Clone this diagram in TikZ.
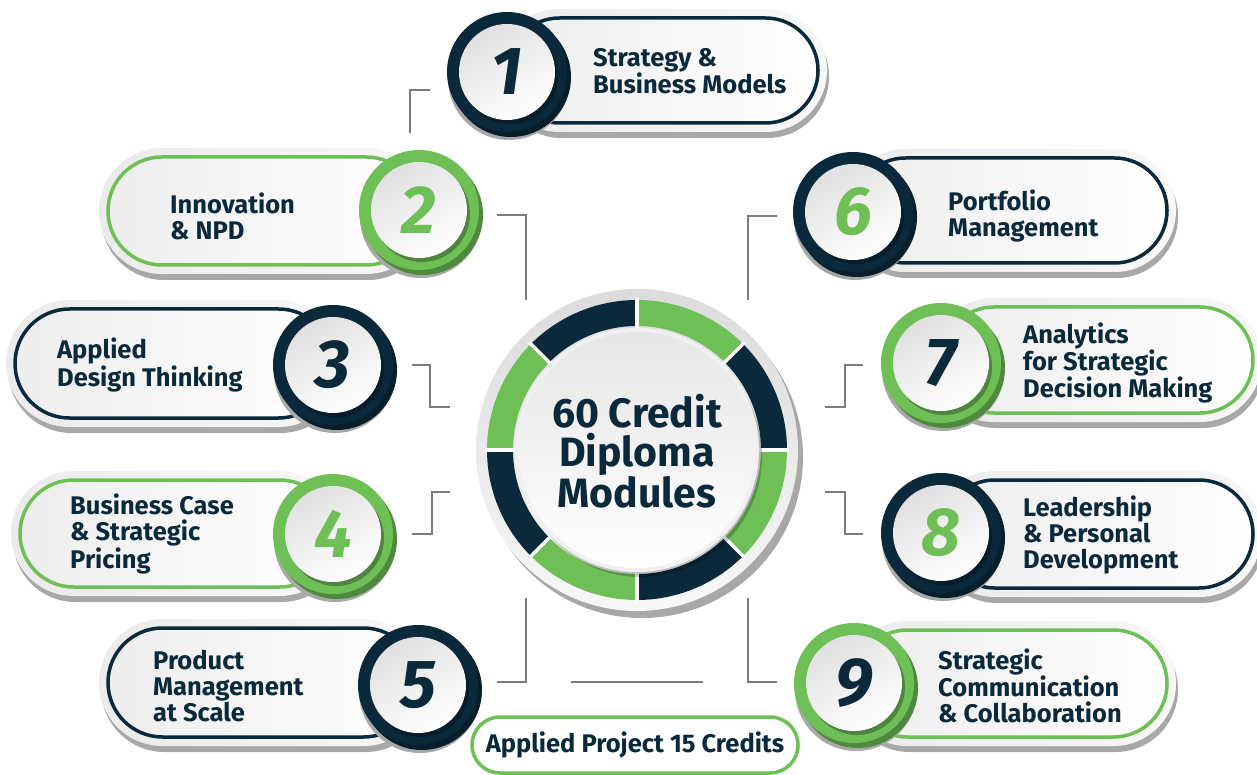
\documentclass[tikz,border=0pt]{standalone}
\usepackage{fontspec}
\setmainfont{Fira Sans}
\definecolor{navy}{HTML}{0A2A3C}
\definecolor{grn}{HTML}{6EBF56}
\definecolor{connc}{HTML}{7C7C7C}
\definecolor{shadowc}{HTML}{A8A8A8}
\definecolor{haloc}{HTML}{EBEBEB}
\tikzset{
  connector/.style={draw=connc, line width=2pt},
  modtext/.style={anchor=west, align=left, text=navy, inner sep=0pt,
    font=\fontsize{25.5}{26}\selectfont\bfseries},
  numtext/.style={inner sep=0pt, font=\fontsize{68}{68}\selectfont\bfseries\itshape},
  hubtext/.style={align=center, text=navy, inner sep=0pt,
    font=\fontsize{41}{39}\selectfont\bfseries},
  projbox/.style={draw=grn, line width=3.5pt, fill=white, rounded corners=28pt,
    minimum width=326pt, minimum height=56pt, text=navy, inner sep=0pt,
    font=\fontsize{25.5}{26}\selectfont\bfseries},
}
% pill: left, right, top, bottom, colour
\newcommand\modpill[5]{%
  \pgfmathsetmacro\pr{(#4-#3)/2}%
  \pgfmathsetmacro\hr{\pr+9}%
  \fill[shadowc, rounded corners=\hr pt] (#1-9+2,#3-9+6) rectangle (#2+9+2,#4+9+6);
  \shade[left color=haloc, right color=white!97!black, rounded corners=\hr pt] (#1-9,#3-9) rectangle (#2+9,#4+9);
  \shadedraw[draw=#5, line width=3.5pt, left color=white!93!black, right color=white, rounded corners=\pr pt] (#1,#3) rectangle (#2,#4);
}
% circle: name, cx, cy, ring colour, number colour, number
\newcommand\modcircle[6]{%
  \fill[shadowc] (#2+2,#3+7) circle[radius=61];
  \fill[#4!72!black] (#2+4,#3+5) circle[radius=60];
  \fill[#4] (#2,#3) circle[radius=60];
  \fill[#4!70!black] (#2+3,#3+4) circle[radius=48];
  \shade[top color=white!88!black, bottom color=white, shading angle=30] (#2,#3) circle[radius=48];
  \node[numtext, text=#5] (#1) at (#2,#3) {#6};
}
\begin{document}
\begin{tikzpicture}[x=1pt,y=-1pt]
\useasboundingbox (0,0) rectangle (1257,775);

% ---------- pills ----------
\modpill{507}{818}{18}{123}{navy}
\modpill{108}{420}{157}{265}{grn}
\modpill{15}{333}{309}{418}{navy}
\modpill{20}{333}{480}{587}{grn}
\modpill{108}{418}{628}{737}{navy}
\modpill{853}{1167}{158}{263}{navy}
\modpill{941}{1253}{307}{413}{grn}
\modpill{941}{1253}{480}{588}{navy}
\modpill{854}{1167}{630}{737}{grn}

% ---------- circles ----------
\modcircle{n1}{507}{72}{navy}{navy}{1}
\modcircle{n2}{419}{210}{grn}{grn}{2}
\modcircle{n3}{333}{365}{navy}{navy}{3}
\modcircle{n4}{333}{534}{grn}{grn}{4}
\modcircle{n5}{418}{685}{navy}{navy}{5}
\modcircle{n6}{853}{212}{navy}{grn}{6}
\modcircle{n7}{941}{363}{grn}{navy}{7}
\modcircle{n8}{941}{533}{navy}{grn}{8}
\modcircle{n9}{854}{683}{grn}{navy}{9}

% ---------- labels ----------
\node[modtext] (t1) at (593,71) {Strategy \&\\Business Models};
\node[modtext] (t2) at (170,216) {Innovation\\\& NPD};
\node[modtext] (t3) at (57,365) {Applied\\Design Thinking};
\node[modtext] (t4) at (70,534) {Business Case\\\& Strategic\\Pricing};
\node[modtext] (t5) at (153,686) {Product\\Management\\at Scale};
\node[modtext] (t6) at (948,216) {Portfolio\\Management};
\node[modtext] (t7) at (1023,363) {Analytics\\for Strategic\\Decision Making};
\node[modtext] (t8) at (1023,535) {Leadership\\\& Personal\\Development};
\node[modtext] (t9) at (938,686) {Strategic\\Communication\\\& Collaboration};

% ---------- hub ----------
\coordinate (cc) at (637,450);
\fill[shadowc] ([shift={(5,7)}]cc) circle[radius=161];
\shade[top color=white!86!black, bottom color=white!97!black] (cc) circle[radius=161];
\foreach \a/\c in {0/grn,45/navy,90/grn,135/navy,180/grn,225/navy,270/grn,315/navy}{
  \fill[\c] ([shift={(\a:150)}]cc) arc[start angle=\a, end angle=\a+45, radius=150]
     -- ([shift={(\a+45:124)}]cc) arc[start angle=\a+45, end angle=\a, radius=124] -- cycle;
}
\foreach \a in {0,45,...,315}{
  \draw[white, line width=3.5pt] ([shift={(\a:122)}]cc) -- ([shift={(\a:152)}]cc);
}
\fill[black, opacity=0.22] ([shift={(4,6)}]cc) circle[radius=121];
\fill[white!94!black] (cc) circle[radius=122];
\shade[top color=white!90!black, bottom color=white] (cc) circle[radius=118];
\node[hubtext] (hub) at (637,451) {60 Credit\\Diploma\\Modules};

% ---------- applied project ----------
\node[projbox] (proj) at (635,745) {Applied Project 15 Credits};

% ---------- connectors ----------
\coordinate (k1a) at (410,133); \coordinate (k1b) at (430,90);
\coordinate (k2a) at (497,215); \coordinate (k2b) at (526,300);
\coordinate (k3a) at (412,365); \coordinate (k3b) at (430,365);
\coordinate (k3c) at (430,407); \coordinate (k3d) at (450,407);
\coordinate (k4a) at (412,534); \coordinate (k4b) at (432,534);
\coordinate (k4c) at (432,492); \coordinate (k4d) at (450,492);
\coordinate (k5a) at (526,598); \coordinate (k5b) at (497,682);
\coordinate (kma) at (571,682); \coordinate (kmb) at (703,682);
\coordinate (k9a) at (748,598); \coordinate (k9b) at (777,682);
\coordinate (k6a) at (777,216); \coordinate (k6b) at (748,300);
\coordinate (k7a) at (863,365); \coordinate (k7b) at (845,365);
\coordinate (k7c) at (845,407); \coordinate (k7d) at (825,407);
\coordinate (k8a) at (825,492); \coordinate (k8b) at (845,492);
\coordinate (k8c) at (845,534); \coordinate (k8d) at (863,534);

\draw[connector] (k1a) |- (k1b);
\draw[connector] (k2a) -| (k2b);
\draw[connector] (k3a) -- (k3b) -- (k3c) -- (k3d);
\draw[connector] (k4a) -- (k4b) -- (k4c) -- (k4d);
\draw[connector] (k5a) |- (k5b);
\draw[connector] (kma) -- (kmb);
\draw[connector] (k9a) |- (k9b);
\draw[connector] (k6a) -| (k6b);
\draw[connector] (k7a) -- (k7b) -- (k7c) -- (k7d);
\draw[connector] (k8a) -- (k8b) -- (k8c) -- (k8d);
\end{tikzpicture}
\end{document}
